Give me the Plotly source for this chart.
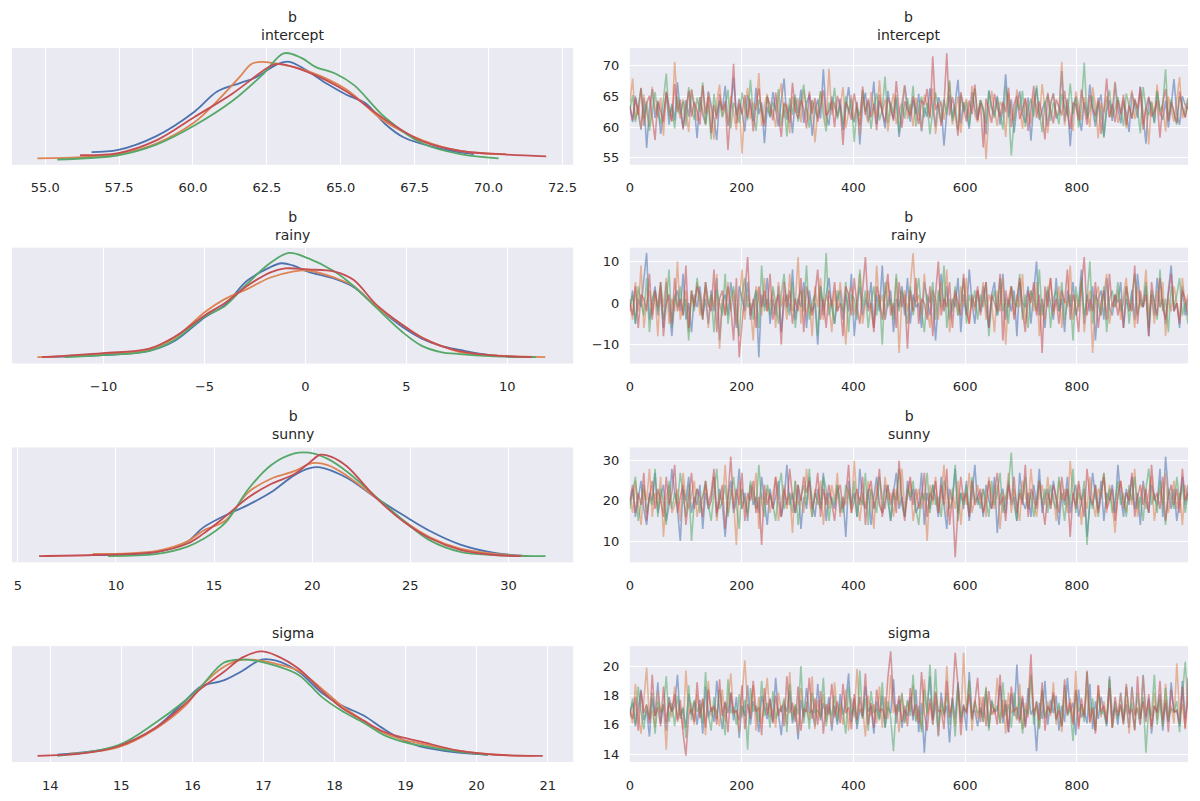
import numpy as np
import plotly.graph_objects as go
from plotly.subplots import make_subplots

# chain colours (seaborn "deep")
chain_colors = ["#4c72b0", "#dd8452", "#55a868", "#c44e52"]
titles = ["b<br>intercept", "b<br>rainy", "b<br>sunny", "sigma"]
n_draws = 1000

# ---- per-chain KDE curves: parameter value / relative density ----
kde_intercept_x = [
    [56.57, 57.47, 58.76, 60.05, 60.82, 61.59, 62.10, 62.88, 63.26, 63.78, 64.55, 65.19, 65.84, 66.48, 67.12, 68.41, 69.50],
    [54.74, 57.47, 58.76, 60.05, 60.82, 61.59, 61.98, 62.36, 62.88, 63.91, 65.19, 66.48, 67.77, 69.05, 70.60],
    [55.41, 57.47, 58.76, 60.05, 61.33, 62.36, 63.07, 63.65, 64.16, 64.81, 65.45, 66.48, 67.77, 69.05, 70.34],
    [56.18, 57.47, 58.76, 60.05, 61.33, 62.62, 62.88, 63.91, 65.19, 66.48, 67.77, 69.05, 70.34, 71.95],
]
kde_intercept_y = [
    [0.07, 0.09, 0.22, 0.45, 0.64, 0.72, 0.77, 0.90, 0.92, 0.85, 0.71, 0.61, 0.53, 0.34, 0.21, 0.10, 0.05],
    [0.01, 0.05, 0.15, 0.35, 0.55, 0.78, 0.90, 0.92, 0.90, 0.83, 0.66, 0.36, 0.18, 0.08, 0.05],
    [0.00, 0.04, 0.14, 0.32, 0.55, 0.80, 1.00, 0.96, 0.87, 0.81, 0.70, 0.40, 0.15, 0.05, 0.01],
    [0.04, 0.06, 0.18, 0.40, 0.62, 0.88, 0.90, 0.82, 0.64, 0.38, 0.17, 0.08, 0.05, 0.03],
]
kde_rainy_x = [
    [-12.86, -10.04, -7.78, -6.46, -4.96, -4.02, -2.89, -1.76, -1.19, -0.63, 0.12, 1.44, 2.38, 3.51, 4.83, 5.77, 6.71, 7.65, 9.15, 11.41],
    [-13.27, -10.04, -7.78, -6.46, -4.96, -4.02, -2.89, -1.76, -0.63, 0.12, 1.44, 2.38, 3.51, 4.83, 5.77, 6.71, 7.65, 9.15, 11.88],
    [-11.92, -10.04, -7.78, -6.46, -4.96, -4.02, -2.89, -1.76, -0.82, 0.12, 1.44, 2.38, 3.51, 4.83, 5.77, 6.71, 7.65, 9.15, 11.41],
    [-13.05, -10.04, -7.78, -6.46, -4.96, -4.02, -2.89, -1.76, -1.01, 0.12, 1.44, 2.38, 3.51, 4.83, 5.77, 6.71, 7.65, 9.15, 11.22],
]
kde_rainy_y = [
    [0.01, 0.03, 0.07, 0.17, 0.40, 0.51, 0.75, 0.88, 0.92, 0.90, 0.84, 0.77, 0.69, 0.50, 0.30, 0.19, 0.12, 0.08, 0.03, 0.01],
    [0.01, 0.04, 0.08, 0.20, 0.45, 0.57, 0.67, 0.78, 0.84, 0.85, 0.78, 0.70, 0.50, 0.32, 0.20, 0.12, 0.06, 0.03, 0.01],
    [0.01, 0.03, 0.07, 0.18, 0.41, 0.50, 0.72, 0.92, 1.02, 0.97, 0.84, 0.70, 0.49, 0.25, 0.12, 0.06, 0.04, 0.02, 0.01],
    [0.01, 0.05, 0.09, 0.21, 0.42, 0.53, 0.70, 0.83, 0.87, 0.86, 0.84, 0.76, 0.52, 0.32, 0.20, 0.12, 0.07, 0.03, 0.01],
]
kde_sunny_x = [
    [8.82, 12.10, 13.65, 14.42, 15.58, 16.74, 17.90, 19.05, 19.83, 20.41, 21.76, 23.30, 24.65, 26.00, 27.55, 29.29, 31.02],
    [8.82, 12.10, 13.65, 14.42, 15.58, 16.74, 17.90, 19.05, 20.02, 20.79, 21.76, 23.30, 24.65, 26.00, 27.55, 29.29, 31.02],
    [9.59, 12.10, 13.65, 14.42, 15.58, 16.74, 17.90, 19.05, 19.83, 20.79, 21.76, 23.30, 24.65, 26.00, 27.55, 29.29, 31.89],
    [6.08, 8.82, 12.10, 13.65, 14.42, 15.58, 16.74, 17.90, 19.05, 19.83, 20.41, 20.98, 21.76, 23.30, 24.65, 26.00, 27.55, 29.29, 30.64],
]
kde_sunny_y = [
    [0.02, 0.05, 0.15, 0.28, 0.40, 0.50, 0.62, 0.78, 0.85, 0.86, 0.76, 0.56, 0.40, 0.25, 0.12, 0.04, 0.01],
    [0.03, 0.06, 0.15, 0.25, 0.35, 0.62, 0.75, 0.82, 0.90, 0.88, 0.78, 0.56, 0.35, 0.19, 0.08, 0.03, 0.01],
    [0.01, 0.03, 0.10, 0.17, 0.33, 0.65, 0.88, 0.99, 1.00, 0.94, 0.82, 0.57, 0.35, 0.16, 0.05, 0.02, 0.01],
    [0.01, 0.02, 0.05, 0.13, 0.22, 0.39, 0.57, 0.70, 0.79, 0.90, 0.98, 0.96, 0.87, 0.56, 0.34, 0.18, 0.07, 0.02, 0.01],
]
kde_sigma_x = [
    [14.10, 14.42, 14.95, 15.48, 15.91, 16.12, 16.44, 16.70, 16.97, 17.18, 17.50, 17.82, 18.09, 18.41, 18.67, 18.94, 19.20, 19.74, 20.16],
    [14.28, 14.95, 15.48, 15.91, 16.12, 16.44, 16.70, 16.97, 17.18, 17.50, 17.82, 18.09, 18.41, 18.67, 18.94, 19.20, 19.74, 20.27, 20.80],
    [14.10, 14.95, 15.48, 15.91, 16.12, 16.44, 16.70, 16.97, 17.18, 17.50, 17.82, 18.09, 18.41, 18.67, 18.94, 19.20, 19.74, 20.16],
    [13.82, 14.42, 14.95, 15.48, 15.91, 16.12, 16.44, 16.70, 16.97, 17.18, 17.50, 17.82, 18.09, 18.41, 18.67, 18.94, 19.20, 19.74, 20.27, 20.93],
]
kde_sigma_y = [
    [0.02, 0.04, 0.10, 0.28, 0.55, 0.68, 0.74, 0.83, 0.94, 0.93, 0.82, 0.62, 0.50, 0.40, 0.28, 0.17, 0.10, 0.04, 0.02],
    [0.03, 0.09, 0.27, 0.50, 0.68, 0.87, 0.94, 0.93, 0.90, 0.83, 0.66, 0.50, 0.35, 0.24, 0.17, 0.13, 0.06, 0.02, 0.01],
    [0.01, 0.11, 0.33, 0.55, 0.68, 0.91, 0.94, 0.92, 0.88, 0.79, 0.58, 0.45, 0.33, 0.22, 0.15, 0.11, 0.05, 0.02],
    [0.01, 0.03, 0.10, 0.28, 0.52, 0.66, 0.82, 0.96, 1.02, 0.98, 0.85, 0.64, 0.48, 0.35, 0.25, 0.19, 0.15, 0.06, 0.02, 0.01],
]

# ---- thinned draws per chain (every 5th draw) ----
trace_intercept = [
    [63.4, 60.8, 65.1, 62.2, 59.6, 64.7, 56.6, 63.0, 66.2, 61.5, 64.1, 58.9, 62.7, 65.5, 60.4, 63.8, 61.1, 67.3, 62.5, 59.9, 64.4, 61.7, 66.0, 63.2, 58.2,
     64.9, 62.0, 60.6, 65.8, 63.5, 61.3, 57.9, 64.2, 62.8, 66.7, 60.2, 63.1, 68.0, 61.9, 64.6, 62.4, 59.3, 65.2, 63.7, 60.9, 66.4, 62.1, 64.0, 57.4, 63.3,
     61.6, 65.7, 62.9, 60.1, 64.3, 67.9, 61.2, 63.6, 59.0, 64.8, 62.3, 66.1, 60.7, 63.9, 65.3, 58.6, 62.6, 64.5, 61.4, 69.4, 62.0, 60.3, 65.0, 63.4, 61.8,
     64.6, 59.5, 63.0, 66.5, 62.2, 60.8, 64.1, 57.2, 63.7, 65.6, 61.0, 62.9, 67.4, 60.5, 64.2, 62.6, 59.8, 65.9, 63.1, 61.3, 64.7, 58.4, 62.4, 66.8, 63.5,
     60.9, 64.4, 62.1, 65.4, 59.3, 63.2, 61.7, 66.3, 62.8, 60.0, 64.9, 63.6, 57.0, 62.3, 65.2, 61.5, 63.9, 67.7, 60.6, 64.0, 62.5, 59.7, 65.7, 63.0, 61.1,
     64.3, 62.7, 58.8, 66.0, 63.4, 61.9, 65.1, 60.4, 62.9, 68.6, 61.6, 64.5, 59.1, 63.3, 65.8, 62.0, 60.7, 64.8, 57.8, 63.6, 66.4, 61.2, 62.6, 64.2, 60.2,
     63.8, 65.5, 61.4, 62.2, 69.1, 60.9, 64.6, 56.9, 63.1, 65.0, 62.4, 59.4, 64.0, 61.8, 66.9, 62.8, 60.1, 63.5, 65.3, 58.5, 62.7, 64.4, 61.0, 67.2, 63.2,
     60.6, 64.1, 62.3, 59.2, 65.6, 63.7, 61.5, 66.6, 62.0, 57.3, 64.7, 63.0, 60.8, 65.9, 62.5, 61.2, 64.3, 59.9, 63.4, 67.8, 62.1, 60.4, 65.0, 63.6, 62.9],
    [64.0, 67.9, 61.2, 63.6, 59.7, 65.3, 62.4, 60.1, 66.6, 63.1, 61.6, 64.8, 58.6, 65.9, 62.2, 60.9, 70.6, 63.4, 61.4, 64.5, 62.8, 59.2, 66.2, 63.9, 61.0,
     64.9, 62.5, 60.4, 65.6, 63.0, 58.0, 64.2, 66.9, 61.8, 63.7, 60.6, 65.1, 62.1, 59.5, 64.4, 55.7, 63.3, 66.4, 61.3, 64.0, 62.7, 68.8, 60.2, 63.5, 65.4,
     61.9, 62.9, 60.0, 64.6, 67.1, 61.5, 63.8, 59.0, 65.0, 62.3, 64.7, 60.8, 66.0, 63.2, 61.1, 64.3, 57.5, 62.6, 65.8, 63.6, 60.3, 69.5, 62.0, 64.1, 61.7,
     63.4, 66.5, 59.8, 62.8, 65.2, 61.0, 63.9, 58.7, 64.9, 62.4, 60.7, 65.7, 63.1, 61.6, 67.6, 62.2, 64.5, 59.3, 63.0, 65.5, 60.5, 62.6, 64.0, 66.8, 61.3,
     63.7, 60.1, 64.8, 62.1, 59.6, 65.3, 63.5, 61.8, 66.3, 58.9, 62.9, 64.2, 61.2, 63.8, 67.3, 60.4, 62.5, 65.0, 59.1, 63.3, 64.6, 61.5, 66.7, 62.0, 60.8,
     64.4, 63.0, 54.8, 61.9, 65.9, 62.7, 60.2, 64.1, 63.4, 58.4, 65.6, 62.3, 61.0, 66.1, 63.6, 59.7, 64.7, 62.0, 60.6, 65.2, 63.1, 61.4, 67.0, 62.5, 59.0,
     63.9, 65.4, 61.7, 62.8, 70.6, 60.3, 64.3, 62.1, 59.4, 65.8, 63.2, 61.1, 64.9, 62.6, 60.0, 66.5, 63.5, 58.2, 64.0, 62.4, 65.1, 61.6, 63.0, 67.4, 60.7,
     62.2, 64.6, 59.8, 63.7, 66.0, 61.3, 62.9, 65.5, 60.5, 63.3, 57.2, 64.2, 62.0, 66.9, 61.8, 63.6, 59.3, 65.0, 62.7, 60.9, 64.5, 68.1, 61.4, 63.1, 64.8],
    [62.7, 65.2, 60.8, 63.9, 66.3, 61.4, 64.1, 59.4, 63.0, 65.7, 62.3, 60.5, 64.6, 68.7, 61.8, 63.4, 59.8, 65.0, 62.1, 64.2, 60.2, 66.5, 63.1, 61.2, 64.8,
     62.5, 67.3, 60.3, 63.8, 58.0, 65.4, 61.9, 64.3, 61.6, 63.3, 66.1, 59.8, 64.0, 62.8, 60.7, 65.6, 63.5, 61.1, 67.7, 62.2, 59.4, 64.5, 63.0, 60.6, 65.1,
     61.7, 64.1, 62.6, 66.2, 60.2, 63.7, 58.5, 64.7, 62.0, 65.3, 60.9, 63.9, 66.9, 62.4, 59.9, 64.4, 63.1, 61.5, 65.8, 61.9, 59.3, 64.0, 62.7, 66.4, 61.3,
     63.6, 60.4, 65.1, 62.2, 64.6, 57.6, 63.2, 61.8, 66.0, 62.5, 64.2, 59.7, 63.4, 65.5, 61.1, 62.8, 68.2, 60.7, 64.0, 62.3, 65.2, 59.1, 63.8, 61.4, 64.7,
     62.1, 66.7, 60.1, 63.3, 65.0, 61.6, 63.9, 58.8, 62.6, 65.6, 63.2, 60.8, 64.5, 62.0, 67.6, 61.0, 63.5, 59.5, 65.3, 62.4, 64.1, 60.3, 63.7, 66.3, 61.9,
     64.4, 62.9, 60.6, 65.7, 63.0, 61.5, 64.8, 62.2, 59.6, 66.6, 63.6, 55.4, 61.2, 64.3, 62.7, 65.9, 60.0, 63.1, 64.6, 61.7, 66.8, 62.4, 59.2, 63.8, 65.2,
     61.0, 64.0, 62.5, 60.5, 65.4, 63.3, 61.8, 67.1, 62.1, 64.7, 59.9, 63.5, 70.5, 61.3, 62.8, 65.1, 60.9, 64.2, 62.4, 58.3, 63.9, 66.0, 61.6, 63.0, 64.9,
     62.3, 60.2, 65.5, 63.6, 61.4, 64.4, 62.9, 59.0, 66.5, 63.2, 61.9, 64.1, 60.6, 65.8, 62.6, 63.7, 69.4, 61.1, 64.5, 62.0, 60.4, 65.0, 63.4, 61.7, 64.6],
    [63.5, 61.1, 64.7, 62.0, 66.4, 60.2, 63.9, 65.1, 61.6, 57.9, 64.3, 62.6, 60.8, 65.7, 63.2, 61.0, 67.0, 62.4, 64.5, 59.6, 63.0, 65.9, 61.7, 64.1, 62.6,
     60.4, 66.8, 62.2, 64.9, 59.0, 63.6, 61.3, 65.4, 62.7, 64.2, 56.3, 63.1, 70.3, 60.6, 63.8, 62.1, 65.2, 61.5, 64.6, 59.3, 63.4, 66.3, 62.5, 60.1, 64.9,
     63.7, 61.1, 65.6, 62.3, 58.4, 64.0, 63.2, 60.7, 67.2, 62.8, 61.4, 64.4, 63.0, 59.8, 65.8, 62.2, 64.7, 60.9, 63.6, 66.0, 61.9, 62.6, 64.3, 60.0, 65.1,
     63.4, 57.1, 64.1, 62.9, 61.2, 65.5, 63.1, 60.3, 66.6, 62.0, 64.6, 61.6, 63.8, 59.5, 65.3, 62.4, 60.8, 64.8, 63.3, 61.0, 67.5, 62.7, 59.9, 64.2, 63.0,
     61.8, 65.0, 62.5, 60.5, 64.4, 63.6, 66.2, 61.4, 71.5, 62.8, 64.0, 60.2, 63.5, 72.0, 61.9, 64.9, 62.3, 58.6, 65.7, 63.1, 60.9, 64.3, 62.1, 66.9, 61.2,
     63.9, 56.7, 64.6, 62.6, 60.7, 65.4, 63.2, 61.7, 64.1, 62.4, 66.4, 60.0, 63.7, 65.1, 61.3, 62.9, 64.7, 59.4, 63.4, 66.7, 61.5, 64.2, 62.0, 58.0, 65.6,
     62.7, 60.6, 64.5, 63.3, 61.9, 65.9, 62.2, 59.7, 64.0, 63.6, 61.1, 66.1, 62.8, 60.4, 65.2, 63.0, 61.8, 64.8, 58.9, 62.5, 67.9, 61.6, 63.8, 60.8, 64.4,
     62.1, 65.3, 60.3, 63.5, 61.4, 64.6, 62.9, 66.5, 59.6, 63.1, 65.0, 61.7, 62.6, 64.3, 58.3, 63.9, 66.2, 61.0, 64.1, 62.4, 60.7, 65.8, 63.2, 61.5, 64.0],
]
trace_rainy = [
    [-2, 3, -5, 1, -1, 6, 12, -4, 0, 4, -3, 2, -6, 5, -1, -8, 1, 3, -2, 7, -4, 0, -7, 2, -1,
     4, -3, 1, -5, 3, -2, 6, -9, 0, 2, -3, 5, -1, -6, 4, 1, -2, 5, -4, 0, 3, -13, 2, -1, 6,
     -5, 1, -3, 4, -7, 0, 2, -2, 8, -4, 1, -1, 5, -6, 3, -2, 0, -10, 4, -3, 2, 6, -1, -5, 1,
     3, -4, 2, -2, 7, -8, 0, 4, -3, 1, -1, 5, -6, 2, -2, 9, -4, 0, 3, -7, 1, -1, 4, -3, 6,
     -5, 2, -1, 0, -6, 5, 1, -3, 3, -9, 0, 7, -2, 4, -4, 1, -1, 6, -7, 2, -3, 8, 0, -5, 3,
     -2, 4, -1, -6, 2, 5, -3, 0, 7, -4, 1, -2, 3, -8, 5, 0, -1, 4, -5, 2, 10, -3, 1, -6, 3,
     0, -4, 6, -2, 1, -7, 3, -1, 5, -3, 0, 8, -5, 2, -2, 4, -9, 1, 3, -4, 6, -1, -3, 2, 0,
     5, -6, 1, -2, 3, -4, 7, 0, -1, 4, -8, 2, -3, 6, -1, 1, -5, 3, 9, -2, 0, -6, 4, -3, 1],
    [1, -4, 5, -2, 9, -6, 0, 3, -3, 2, -8, 4, -1, 6, -5, 1, -2, 10, -4, 0, 3, -7, 2, -1, 5,
     -3, 0, 4, -6, 2, -1, 7, -11, 1, -3, 5, -2, 3, -5, 0, 8, -4, 2, -1, -9, 4, 1, -3, 6, -2,
     0, 3, -6, 5, -1, 2, -4, 7, -2, 0, 11, -5, 3, -3, 1, -8, 4, -1, 6, -4, 2, 0, -7, 3, -2,
     5, -1, -10, 2, 4, -3, 1, 7, -5, 0, 3, -2, -6, 9, -1, 2, -4, 5, 0, -3, 6, -12, 1, 3, -2,
     4, 12, 0, 2, -3, 7, -1, -6, 3, 1, -4, 5, -2, 8, -7, 0, 2, -3, 4, -1, 6, -5, 1, -2, 3,
     -1, 5, -4, 2, 0, -7, 3, -2, 6, -10, 1, 4, -3, 2, -1, 7, -5, 0, 3, -2, 5, -8, 1, -4, 2,
     6, -3, 0, 4, -6, 1, -1, 9, -4, 2, -2, 5, -7, 0, 3, -12, 1, 4, -3, 2, 7, -5, 0, -1, 3,
     -4, 2, 6, -2, 1, -6, 4, -1, 0, 8, -3, 2, -5, 3, -1, 5, -8, 1, -2, 4, 0, -4, 6, -1, 2],
    [-1, 2, -5, 4, 0, -3, 6, -7, 1, 3, -2, 5, -4, 0, 8, -6, 2, -1, 4, -3, 1, -9, 3, -2, 6,
     0, -4, 5, -1, 2, -7, 3, 0, -3, 7, -5, 1, 4, -2, -8, 2, 6, -1, 0, -4, 3, -6, 9, -2, 1,
     -3, 4, 0, -5, 2, 7, -1, -3, 5, -6, 1, 3, -2, 9, -4, 0, 2, -8, 4, -1, 12, -3, 1, -5, 3,
     0, -2, 5, -7, 2, 1, -4, 8, -1, 3, -6, 0, 4, -3, 2, -10, 5, -1, 1, -4, 7, -2, 3, 0, -5,
     4, -3, 1, 6, -2, -7, 2, 0, 5, -4, 3, -1, 9, -6, 1, -2, 4, -3, 0, 6, -5, 2, -1, 3, -4,
     2, -1, 5, -8, 0, 3, -3, 6, -2, 1, -5, 4, 0, -1, 7, -4, 2, -6, 3, 1, -2, 8, -3, 0, 4,
     -6, 1, 3, -2, 5, -4, 0, 2, -9, 4, -1, 6, -3, 1, 10, -5, 2, 0, -3, 4, -7, 1, 3, -1, 5,
     -2, 0, 4, -5, 2, 7, -3, 1, -1, 5, -6, 3, 0, -4, 8, -2, 1, -7, 4, -1, 2, 6, -3, 0, -5],
    [0, -3, 4, -6, 2, 1, -2, 7, -4, 3, -1, 5, -8, 0, 2, -5, 6, -2, 1, -3, 9, -6, 3, -1, 4,
     2, -4, 5, 0, -2, 8, -7, 1, 3, -3, 4, -1, -9, 6, -13, -5, 2, 11, -3, 1, -6, 4, -1, 3, -2,
     7, -4, 0, 2, -10, 5, -1, 3, -5, 1, -2, 6, -7, 4, 0, -3, 2, 8, -4, 1, -6, 3, -1, 5, -2,
     0, -8, 4, 2, -3, 6, -1, -5, 3, 11, -2, 0, -7, 4, 1, -4, 2, 7, -3, 0, -6, 5, -1, 2, -11,
     3, -2, 6, -5, 1, 0, -4, 4, -8, 2, 10, -3, 1, -1, 5, -6, 3, 0, -3, 7, -2, -5, 2, -1, 4,
     -3, 1, 5, -6, 2, 0, -2, 7, -9, 3, -1, 4, -4, 1, 6, -2, -7, 3, 0, 5, -3, 2, -12, 4, -1,
     6, -2, 1, -5, 3, 0, 8, -4, 2, -1, -7, 4, 11, -3, 1, -2, 5, -6, 0, 3, -4, 7, -1, 2, -3,
     1, -6, 4, 0, -2, 9, -5, 3, -1, 2, -8, 5, 0, -3, 6, -1, -4, 2, 7, -2, 0, -5, 3, 1, -3],
]
trace_sunny = [
    [19, 23, 16, 21, 25, 18, 14, 22, 20, 27, 17, 21, 24, 15, 19, 28, 22, 18, 10, 23, 20, 26, 17, 21, 19,
     24, 13, 22, 18, 20, 26, 16, 23, 19, 11, 21, 25, 17, 20, 28, 18, 22, 15, 24, 19, 21, 17, 26, 20, 14,
     23, 18, 21, 25, 16, 20, 29, 19, 22, 17, 24, 13, 21, 18, 26, 20, 16, 23, 19, 27, 15, 22, 20, 18, 24,
     17, 21, 11, 25, 19, 22, 16, 28, 20, 18, 23, 14, 21, 26, 19, 17, 24, 20, 15, 22, 27, 18, 21, 16, 25,
     20, 23, 17, 19, 27, 14, 22, 18, 24, 21, 16, 26, 19, 13, 23, 20, 28, 17, 22, 18, 25, 15, 21, 29, 19,
     22, 16, 24, 20, 18, 26, 12, 21, 23, 17, 25, 19, 21, 15, 27, 20, 18, 22, 16, 24, 19, 28, 17, 21, 23,
     18, 25, 20, 14, 22, 19, 26, 17, 21, 24, 16, 20, 23, 11, 19, 27, 21, 18, 25, 15, 22, 20, 24, 17, 29,
     21, 16, 23, 19, 26, 18, 22, 14, 25, 20, 17, 24, 21, 19, 28, 16, 31, 22, 18, 23, 15, 20, 26, 19, 24],
    [21, 17, 25, 19, 14, 23, 20, 28, 16, 22, 18, 26, 11, 21, 24, 17, 19, 23, 15, 27, 20, 18, 22, 25, 16,
     20, 21, 24, 18, 20, 26, 15, 22, 19, 29, 17, 23, 20, 9, 25, 18, 21, 16, 24, 20, 27, 13, 22, 19, 23,
     17, 21, 26, 15, 20, 24, 18, 22, 12, 25, 19, 21, 17, 28, 20, 16, 23, 19, 25, 14, 22, 18, 24, 20, 27,
     16, 21, 19, 23, 17, 30, 20, 15, 22, 18, 25, 21, 13, 24, 19, 17, 26, 20, 22, 16, 23, 19, 28, 18, 21,
     25, 15, 20, 23, 18, 22, 10, 24, 19, 26, 17, 21, 29, 16, 20, 23, 18, 25, 14, 22, 19, 27, 17, 21, 24,
     19, 23, 16, 26, 21, 18, 24, 13, 22, 20, 27, 17, 23, 19, 15, 25, 21, 18, 28, 20, 16, 22, 24, 19, 26,
     18, 22, 15, 25, 20, 23, 17, 30, 21, 19, 24, 14, 22, 18, 26, 20, 16, 23, 21, 27, 17, 24, 19, 12, 22,
     25, 20, 17, 23, 19, 28, 16, 21, 24, 18, 22, 26, 15, 20, 23, 19, 27, 17, 21, 25, 18, 22, 14, 24, 20],
    [18, 22, 26, 15, 20, 24, 17, 21, 19, 28, 16, 23, 20, 14, 25, 18, 22, 19, 27, 21, 16, 24, 10, 20, 23,
     17, 21, 25, 19, 15, 22, 28, 18, 20, 24, 16, 21, 26, 19, 13, 23, 20, 17, 25, 22, 18, 29, 20, 16, 24,
     21, 19, 15, 23, 27, 18, 20, 22, 17, 25, 14, 21, 24, 19, 28, 16, 22, 20, 18, 26, 23, 15, 21, 19, 24,
     20, 17, 24, 22, 18, 25, 16, 21, 19, 27, 14, 23, 20, 17, 26, 21, 18, 24, 15, 22, 20, 28, 19, 16, 23,
     21, 25, 18, 14, 22, 20, 27, 17, 24, 19, 21, 16, 25, 23, 18, 20, 29, 15, 22, 19, 24, 17, 26, 20, 21,
     18, 23, 20, 16, 25, 19, 22, 27, 17, 21, 24, 32, 19, 15, 23, 20, 26, 18, 22, 16, 21, 25, 19, 23, 17,
     24, 20, 18, 26, 21, 15, 23, 19, 28, 17, 22, 20, 25, 9, 21, 18, 24, 16, 22, 27, 19, 23, 17, 20, 25,
     19, 22, 16, 24, 20, 26, 18, 21, 15, 23, 28, 19, 22, 17, 25, 20, 14, 23, 21, 18, 26, 20, 24, 17, 22],
    [20, 24, 17, 22, 19, 27, 15, 21, 25, 18, 23, 20, 16, 26, 19, 22, 29, 17, 21, 24, 14, 20, 27, 18, 23,
     21, 16, 25, 19, 22, 28, 17, 20, 24, 13, 21, 31, 18, 23, 19, 27, 15, 22, 20, 25, 17, 21, 9, 24, 19,
     22, 18, 26, 20, 16, 23, 19, 28, 21, 17, 24, 20, 26, 22, 25, 18, 21, 27, 16, 23, 19, 24, 20, 15, 22,
     24, 18, 21, 29, 17, 20, 23, 19, 26, 14, 22, 25, 18, 21, 28, 16, 20, 24, 19, 23, 17, 30, 21, 15, 22,
     26, 19, 23, 18, 21, 27, 16, 22, 20, 25, 17, 24, 19, 28, 14, 21, 6, 18, 26, 20, 22, 16, 25, 19, 21,
     23, 17, 20, 25, 18, 22, 27, 19, 21, 15, 24, 20, 26, 17, 22, 19, 29, 16, 23, 21, 18, 25, 20, 14, 22,
     19, 24, 21, 17, 26, 20, 23, 11, 22, 18, 25, 20, 16, 28, 21, 19, 24, 17, 22, 26, 18, 20, 23, 15, 21,
     25, 18, 22, 20, 27, 16, 21, 24, 19, 23, 17, 29, 20, 22, 18, 26, 15, 21, 24, 19, 23, 17, 28, 20, 22],
]
trace_sigma = [
    [16.8, 17.5, 15.9, 17.2, 18.4, 16.3, 17.0, 15.2, 17.8, 16.6, 18.9, 16.1, 17.4, 15.6, 17.9, 16.9, 17.3, 19.4, 16.4, 17.1, 15.8, 18.1, 16.7, 17.6, 16.0,
     17.7, 15.4, 18.6, 16.5, 17.2, 16.2, 19.0, 17.0, 15.7, 17.5, 16.8, 18.2, 16.3, 17.9, 15.1, 17.3, 16.6, 18.7, 16.0, 17.6, 16.9, 15.5, 18.0, 17.1, 16.4,
     17.8, 16.2, 19.2, 16.7, 15.3, 17.4, 16.9, 18.3, 16.1, 17.2, 15.0, 17.7, 16.5, 18.5, 16.8, 17.0, 15.9, 18.8, 16.3, 17.5, 16.6, 17.9, 15.6, 17.3, 16.0,
     18.1, 16.7, 17.4, 19.5, 16.2, 17.8, 15.7, 17.1, 16.5, 18.6, 16.9, 17.3, 15.4, 17.6, 16.4, 18.0, 15.8, 17.2, 16.8, 19.1, 16.1, 17.7, 15.8, 17.0, 16.6,
     17.9, 16.3, 18.4, 15.5, 17.5, 14.1, 17.1, 19.3, 16.0, 17.6, 15.2, 18.2, 16.7, 17.3, 14.8, 17.8, 16.4, 18.9, 16.2, 17.4, 15.6, 19.6, 16.8, 17.0, 15.9,
     17.2, 16.5, 18.3, 15.8, 17.6, 16.9, 17.0, 18.7, 16.1, 17.4, 15.5, 18.1, 16.6, 20.1, 16.3, 17.8, 15.9, 18.5, 16.7, 17.1, 14.2, 17.5, 16.4, 19.0, 16.0,
     17.7, 16.8, 18.0, 15.6, 17.3, 16.2, 19.2, 16.9, 17.5, 15.3, 18.4, 16.5, 17.0, 16.1, 18.8, 15.7, 17.6, 16.4, 17.9, 16.8, 15.9, 19.3, 16.6, 17.2, 16.0,
     18.2, 16.3, 17.4, 15.8, 18.6, 16.7, 17.1, 16.0, 19.4, 16.5, 17.8, 15.4, 17.3, 16.9, 18.1, 15.6, 17.5, 16.2, 18.9, 16.8, 17.0, 15.9, 19.0, 16.4, 17.6],
    [17.2, 16.1, 18.8, 16.7, 15.4, 17.6, 19.9, 16.3, 17.0, 15.8, 18.3, 16.9, 17.4, 14.3, 17.8, 16.5, 18.6, 16.2, 17.1, 15.7, 19.7, 16.8, 17.5, 16.0, 18.1,
     16.4, 17.7, 15.3, 19.0, 16.6, 17.2, 16.9, 15.9, 18.4, 16.2, 17.6, 19.5, 16.7, 17.0, 15.5, 18.0, 20.4, 17.3, 16.8, 18.7, 15.6, 17.9, 16.1, 17.4, 19.2,
     16.5, 17.1, 15.8, 18.2, 16.9, 17.6, 16.0, 19.6, 16.6, 17.3, 15.4, 18.5, 16.8, 17.0, 16.3, 19.3, 15.7, 17.7, 16.4, 18.1, 16.2, 17.5, 15.9, 18.9, 16.7,
     17.2, 16.0, 18.4, 15.6, 17.8, 16.5, 19.8, 16.9, 17.1, 15.2, 18.0, 16.6, 17.4, 16.1, 18.6, 15.8, 17.9, 16.4, 19.4, 16.8, 17.3, 15.5, 18.2, 16.2, 17.6,
     16.9, 18.7, 16.3, 17.0, 15.7, 19.1, 16.6, 17.5, 16.0, 18.3, 15.3, 17.8, 16.5, 20.0, 16.8, 17.2, 15.9, 18.5, 16.1, 20.9, 16.7, 19.0, 15.6, 17.7, 16.4,
     17.9, 16.2, 18.6, 15.9, 17.4, 16.7, 19.2, 16.1, 17.7, 15.4, 18.2, 16.8, 17.0, 16.3, 18.8, 15.7, 17.5, 16.5, 19.5, 16.9, 17.2, 15.8, 18.3, 16.4, 17.6,
     16.6, 18.9, 16.0, 17.3, 15.5, 18.0, 16.8, 17.8, 16.2, 19.7, 15.9, 17.4, 16.7, 18.4, 16.1, 17.1, 15.6, 18.7, 16.5, 17.6, 16.3, 19.1, 15.8, 17.0, 16.9,
     18.1, 16.4, 17.7, 15.4, 18.5, 16.6, 17.2, 16.0, 19.3, 16.8, 17.5, 15.7, 18.2, 16.3, 17.9, 15.9, 18.8, 16.5, 17.3, 16.1, 20.2, 16.7, 17.4, 15.8, 18.0],
    [16.5, 17.8, 16.0, 18.6, 16.9, 15.7, 17.3, 16.4, 18.2, 15.4, 17.6, 16.8, 17.1, 19.3, 16.2, 17.5, 15.9, 18.0, 16.6, 17.2, 15.1, 18.7, 16.3, 17.7, 16.9,
     17.4, 16.1, 19.6, 16.7, 15.6, 17.9, 16.4, 18.4, 17.0, 15.3, 19.1, 16.8, 17.2, 16.0, 18.1, 16.5, 17.7, 14.3, 18.5, 16.9, 17.3, 16.2, 19.0, 16.6, 17.5,
     15.8, 18.3, 16.4, 17.1, 16.9, 17.8, 15.5, 18.8, 16.3, 17.4, 16.7, 20.0, 16.1, 17.6, 15.7, 18.2, 16.8, 17.0, 16.5, 19.2, 15.9, 17.3, 16.6, 18.0, 16.2,
     17.5, 16.9, 15.4, 18.6, 16.7, 17.2, 16.0, 19.7, 16.4, 17.8, 15.6, 18.3, 16.8, 17.1, 16.3, 18.9, 15.8, 17.6, 16.5, 14.2, 17.4, 16.9, 18.1, 16.1, 17.7,
     16.6, 19.4, 16.2, 17.3, 15.5, 18.4, 16.8, 20.1, 16.4, 19.8, 15.9, 17.5, 16.7, 18.2, 16.0, 17.8, 15.2, 18.7, 16.5, 17.2, 16.9, 19.0, 16.3, 17.6, 16.8,
     17.0, 16.2, 18.5, 15.6, 17.7, 16.9, 17.3, 16.1, 18.9, 16.6, 17.4, 15.8, 18.2, 16.4, 17.9, 15.4, 17.1, 16.7, 19.3, 16.0, 17.6, 15.7, 18.4, 16.5, 17.2,
     16.8, 18.0, 16.3, 17.5, 15.9, 18.7, 16.6, 17.1, 14.9, 18.3, 16.9, 17.4, 16.2, 19.6, 16.5, 17.8, 15.6, 18.1, 16.7, 17.0, 16.0, 19.1, 15.8, 17.6, 16.4,
     17.3, 16.1, 18.6, 16.8, 17.5, 15.7, 18.2, 16.4, 17.9, 14.1, 17.2, 16.6, 19.4, 16.0, 17.7, 15.9, 18.5, 16.3, 17.1, 16.9, 17.6, 15.5, 18.0, 20.3, 17.4],
    [17.0, 16.4, 17.9, 15.6, 18.3, 16.8, 17.4, 16.1, 19.4, 16.6, 17.2, 15.9, 18.6, 16.2, 17.5, 16.9, 18.1, 16.3, 17.7, 15.4, 13.9, 16.7, 17.1, 16.2, 18.9,
     16.5, 17.8, 15.8, 18.4, 16.9, 17.3, 16.0, 19.1, 16.6, 17.6, 15.5, 18.2, 16.8, 17.0, 16.3, 18.7, 15.7, 17.4, 16.4, 19.0, 16.9, 17.2, 15.3, 18.5, 16.7,
     17.7, 16.1, 18.0, 16.6, 17.3, 15.9, 19.3, 16.8, 17.5, 16.2, 18.6, 15.6, 17.1, 16.9, 19.2, 16.4, 17.8, 16.0, 18.3, 15.4, 17.4, 16.7, 18.8, 16.5, 17.6,
     16.1, 18.8, 16.8, 17.2, 15.7, 18.1, 16.3, 17.9, 16.6, 19.5, 16.0, 17.5, 15.8, 18.4, 16.9, 17.1, 16.4, 19.2, 21.0, 17.7, 16.7, 18.0, 16.2, 17.3, 15.9,
     18.5, 16.6, 17.4, 16.1, 19.6, 16.8, 15.6, 17.8, 16.3, 18.2, 16.9, 17.0, 15.7, 19.0, 16.5, 17.6, 20.9, 18.7, 15.3, 17.3, 16.8, 18.1, 16.4, 17.5, 19.2,
     16.2, 17.9, 15.9, 18.3, 16.7, 17.1, 16.0, 19.4, 16.5, 17.7, 15.5, 18.6, 16.9, 17.2, 16.1, 18.0, 15.8, 17.4, 20.8, 16.6, 17.6, 16.3, 18.9, 15.6, 17.3,
     16.8, 18.2, 16.4, 17.0, 15.9, 19.1, 16.7, 17.5, 16.0, 18.4, 15.7, 17.8, 16.5, 19.7, 16.2, 17.2, 15.4, 18.7, 16.9, 17.3, 16.1, 18.5, 15.8, 17.9, 16.6,
     17.4, 16.0, 18.8, 16.7, 17.1, 15.6, 19.3, 16.4, 17.6, 16.2, 18.1, 15.9, 17.3, 16.8, 19.0, 16.3, 17.7, 15.5, 18.4, 16.9, 17.0, 16.1, 18.6, 15.7, 19.2],
]

kde_x = [kde_intercept_x, kde_rainy_x, kde_sunny_x, kde_sigma_x]
kde_y = [kde_intercept_y, kde_rainy_y, kde_sunny_y, kde_sigma_y]
traces = [trace_intercept, trace_rainy, trace_sunny, trace_sigma]
left_dticks = [2.5, 5, 5, 1]
left_tick0 = [55, -10, 5, 14]
left_fmt = [".1f", "", "", ""]
right_dticks = [5, 10, 10, 2]

# panel placement (paper coords)
left_dom = [0.0067, 0.4775]
right_dom = [0.525, 0.9933]
row_dom = [[0.794, 0.940], [0.5456, 0.6904], [0.2971, 0.4407], [0.0474, 0.1923]]

txt = "#262626"
fig = make_subplots(rows=4, cols=2)

for r in range(4):
    all_vals = [v for c in kde_x[r] for v in c] + [v for c in traces[r] for v in c]
    lo, hi = min(all_vals), max(all_vals)
    pad = 0.05 * (hi - lo)
    vrange = [lo - pad, hi + pad]
    ymax = max(max(c) for c in kde_y[r])

    for k in range(4):
        fig.add_trace(go.Scatter(
            x=kde_x[r][k], y=kde_y[r][k], mode="lines",
            line=dict(color=chain_colors[k], width=1.8, shape="spline", smoothing=1.0),
            showlegend=False), row=r + 1, col=1)
    for k in range(4):
        vals = traces[r][k]
        draws = np.linspace(0, n_draws - 1, len(vals))
        fig.add_trace(go.Scatter(
            x=draws, y=vals, mode="lines",
            line=dict(color=chain_colors[k], width=1.6),
            opacity=0.55, showlegend=False), row=r + 1, col=2)

    fig.update_xaxes(domain=left_dom, range=vrange, dtick=left_dticks[r], tick0=left_tick0[r],
                     tickformat=left_fmt[r], row=r + 1, col=1)
    fig.update_yaxes(domain=row_dom[r], range=[-0.05 * ymax, 1.05 * ymax],
                     showticklabels=False, showgrid=False, row=r + 1, col=1)
    fig.update_xaxes(domain=right_dom, range=[0, n_draws - 1], tickvals=[0, 200, 400, 600, 800],
                     row=r + 1, col=2)
    fig.update_yaxes(domain=row_dom[r], range=vrange, dtick=right_dticks[r], row=r + 1, col=2)

    for dom in (left_dom, right_dom):
        fig.add_annotation(x=(dom[0] + dom[1]) / 2, y=row_dom[r][1], xref="paper", yref="paper",
                           text=titles[r], showarrow=False, xanchor="center", yanchor="bottom",
                           yshift=3, font=dict(size=14, color=txt, family="DejaVu Sans"))

fig.update_xaxes(showgrid=True, gridcolor="white", gridwidth=1.3, zeroline=False, showline=False,
                 ticks="outside", ticklen=11, tickcolor="rgba(0,0,0,0)",
                 tickfont=dict(size=13, color=txt, family="DejaVu Sans"))
fig.update_yaxes(gridcolor="white", gridwidth=1.3, zeroline=False, showline=False,
                 ticks="outside", ticklen=7, tickcolor="rgba(0,0,0,0)",
                 tickfont=dict(size=13, color=txt, family="DejaVu Sans"))

fig.update_layout(
    width=1200, height=801,
    margin=dict(l=0, r=0, t=0, b=0),
    paper_bgcolor="white",
    plot_bgcolor="#EAEAF2",
    font=dict(family="DejaVu Sans", color=txt),
)

# the page's default body margin would push the figure 8px off
fig.write_html("out.html", config={"displayModeBar": False},
               post_script="document.body.style.margin = '0';")
